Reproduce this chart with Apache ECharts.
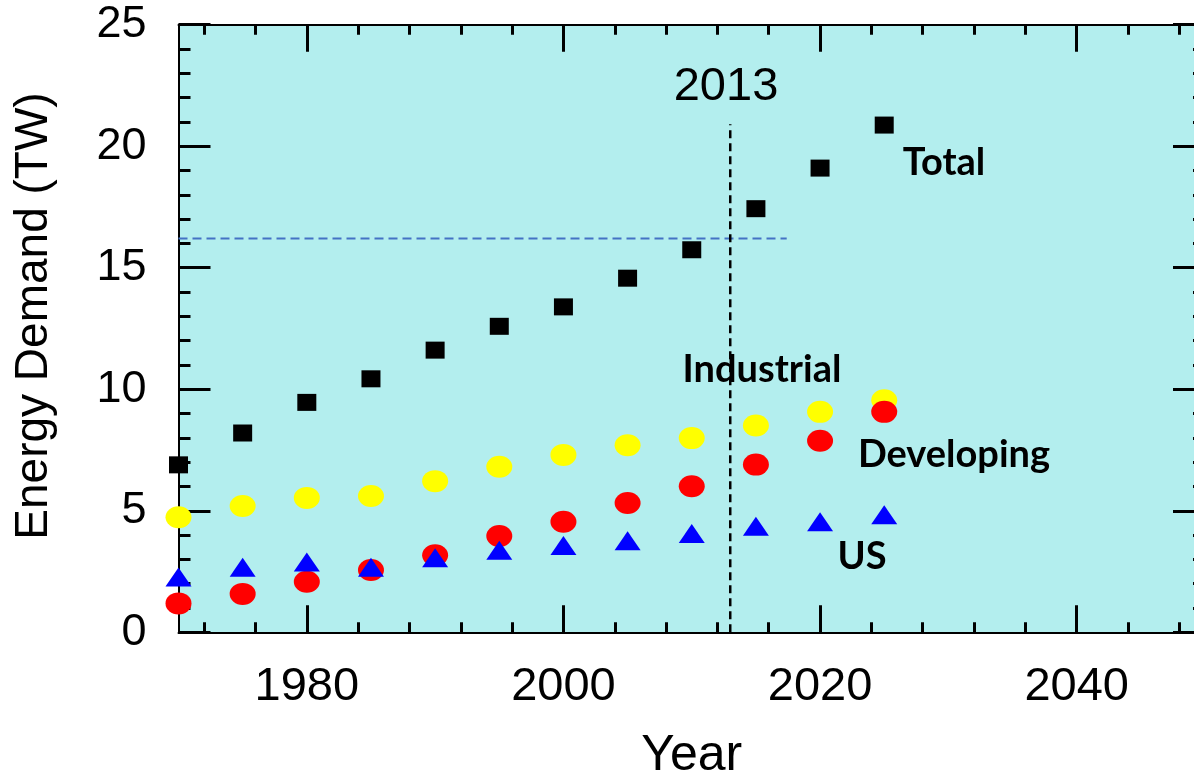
<!DOCTYPE html>
<html>
<head>
<meta charset="utf-8">
<title>Energy Demand</title>
<script src="https://cdn.jsdelivr.net/npm/echarts@6/dist/echarts.min.js"></script>
<style>
  html, body { margin: 0; padding: 0; background: #ffffff; }
  #chart { width: 1194px; height: 772px; }
</style>
</head>
<body>
<div id="chart"></div>
<script>
// Energy demand by region, TW, every five years
const years      = [1970, 1975, 1980, 1985, 1990, 1995, 2000, 2005, 2010, 2015, 2020, 2025];
const total      = [6.89, 8.20, 9.46, 10.43, 11.61, 12.59, 13.39, 14.57, 15.74, 17.43, 19.10, 20.87];
const industrial = [4.73, 5.20, 5.53, 5.61, 6.22, 6.81, 7.30, 7.70, 7.99, 8.51, 9.07, 9.55];
const developing = [1.19, 1.58, 2.08, 2.56, 3.17, 3.96, 4.55, 5.32, 6.01, 6.90, 7.88, 9.07];
const us         = [2.28, 2.68, 2.89, 2.68, 3.07, 3.38, 3.57, 3.77, 4.07, 4.36, 4.55, 4.84];

// Reference markers: the 2013 line and the demand level reached around then
const refYear      = 2013;
const refYearTop   = 20.9;
const refLevel     = 16.2;
const refLevelEnd  = 2017.4;

// Axis ticks
const xMajorTicks = [1980, 2000, 2020, 2040];
const xMinorTicks = [1972, 1976, 1984, 1988, 1992, 1996, 2004, 2008, 2012, 2016,
                     2024, 2028, 2032, 2036, 2044, 2048];
const yTickLabels = ['0', '5', '10', '15', '20', '25'];

const pairs = vals => years.map((y, i) => [y, vals[i]]);

const FONT = '"Liberation Sans", Arial, sans-serif';
const LABEL_FONT = 'bold 38px Lato, "Open Sans", sans-serif';

const chart = echarts.init(document.getElementById('chart'), null, { renderer: 'canvas' });

const tickStyle = { color: '#000', width: 3 };
const lineStyle = { color: '#000', width: 2 };
const plotRect = { left: 178.5, top: 24.7, right: -11, bottom: 139.7,
                   containLabel: false, outerBoundsMode: 'none' };

const xBase = {
  type: 'value', min: 1970, max: 2050,
  splitLine: { show: false },
  axisLabel: { show: false },
  axisLine: { show: false }
};

const option = {
  backgroundColor: '#ffffff',
  animation: false,
  grid: [
    // main plot area
    Object.assign({ show: true, backgroundColor: '#b3eeee', borderWidth: 0 }, plotRect),
    // same frame, carries the short year ticks
    Object.assign({ show: false }, plotRect)
  ],
  xAxis: [
    Object.assign({}, xBase, {
      gridIndex: 0, position: 'bottom',
      axisLine: { show: true, onZero: false, lineStyle: lineStyle },
      axisTick: { show: true, inside: true, length: 27, customValues: xMajorTicks, lineStyle: tickStyle },
      axisLabel: { show: true, customValues: xMajorTicks, margin: 31,
                   color: '#000', fontFamily: FONT, fontSize: 47,
                   formatter: v => String(v) },
      name: 'Year', nameLocation: 'middle', nameGap: 99,
      nameTextStyle: { color: '#000', fontFamily: FONT, fontSize: 50 }
    }),
    Object.assign({}, xBase, {
      gridIndex: 0, position: 'top',
      axisLine: { show: true, onZero: false, lineStyle: lineStyle },
      axisTick: { show: true, inside: true, length: 27, customValues: xMajorTicks, lineStyle: tickStyle }
    }),
    Object.assign({}, xBase, {
      gridIndex: 1, position: 'bottom',
      axisTick: { show: true, inside: true, length: 10, customValues: xMinorTicks, lineStyle: tickStyle }
    }),
    Object.assign({}, xBase, {
      gridIndex: 1, position: 'top',
      axisTick: { show: true, inside: true, length: 10, customValues: xMinorTicks, lineStyle: tickStyle }
    })
  ],
  yAxis: [
    {
      gridIndex: 0, type: 'value', min: 0, max: 25, interval: 5, position: 'left',
      splitLine: { show: false },
      axisLine: { show: true, onZero: false, lineStyle: lineStyle },
      axisTick: { inside: true, length: 32, lineStyle: tickStyle },
      minorTick: { show: true, splitNumber: 5, length: 12, lineStyle: tickStyle },
      axisLabel: { margin: 32, color: '#000', fontFamily: FONT, fontSize: 45,
                   formatter: v => yTickLabels[Math.round(v / 5)] }
    },
    {
      gridIndex: 0, type: 'value', min: 0, max: 25, interval: 5, position: 'right',
      splitLine: { show: false },
      axisLine: { show: true, onZero: false, lineStyle: lineStyle },
      axisTick: { inside: true, length: 32, lineStyle: tickStyle },
      minorTick: { show: true, splitNumber: 5, length: 12, lineStyle: tickStyle },
      axisLabel: { show: false }
    },
    {
      gridIndex: 1, type: 'value', min: 0, max: 25, show: false
    }
  ],
  series: [
    {
      name: 'Level', type: 'line', xAxisIndex: 0, yAxisIndex: 0,
      data: [[1970, refLevel], [refLevelEnd, refLevel]],
      symbol: 'none', silent: true, z: 1,
      lineStyle: { color: '#4472c4', width: 2, type: [9, 5] }
    },
    {
      name: 'Year line', type: 'line', xAxisIndex: 0, yAxisIndex: 0,
      data: [[refYear, 0], [refYear, refYearTop]],
      symbol: 'none', silent: true, z: 1,
      lineStyle: { color: '#000', width: 2.5, type: [8, 5] }
    },
    {
      name: 'Industrial', type: 'scatter', xAxisIndex: 0, yAxisIndex: 0, data: pairs(industrial),
      symbol: 'circle', symbolSize: [26, 22], z: 2,
      itemStyle: { color: '#ffff00', opacity: 1 }
    },
    {
      name: 'Developing', type: 'scatter', xAxisIndex: 0, yAxisIndex: 0, data: pairs(developing),
      symbol: 'circle', symbolSize: [26, 22], z: 3,
      itemStyle: { color: '#ff0000', opacity: 1 }
    },
    {
      name: 'US', type: 'scatter', xAxisIndex: 0, yAxisIndex: 0, data: pairs(us),
      symbol: 'triangle', symbolSize: [26, 19], z: 4,
      itemStyle: { color: '#0000ff', opacity: 1 }
    },
    {
      name: 'Total', type: 'scatter', xAxisIndex: 0, yAxisIndex: 0, data: pairs(total),
      symbol: 'rect', symbolSize: [19, 17], z: 5,
      itemStyle: { color: '#000000', opacity: 1 }
    }
  ],
  graphic: [
    { type: 'text', z: 10, x: 34, y: 316, rotation: Math.PI / 2,
      style: { text: 'Energy Demand (TW)', fill: '#000', font: '46px ' + FONT,
               textAlign: 'center', textVerticalAlign: 'middle' } },
    { type: 'text', z: 10, style: { text: '2013', x: 726, y: 87, fill: '#000',
      font: '47px ' + FONT, textAlign: 'center', textVerticalAlign: 'middle' } },
    { type: 'text', z: 10, style: { text: 'Total', x: 944, y: 163, fill: '#000',
      font: LABEL_FONT, textAlign: 'center', textVerticalAlign: 'middle' } },
    { type: 'text', z: 10, style: { text: 'Industrial', x: 762, y: 370, fill: '#000',
      font: LABEL_FONT, textAlign: 'center', textVerticalAlign: 'middle' } },
    { type: 'text', z: 10, style: { text: 'Developing', x: 954, y: 455, fill: '#000',
      font: LABEL_FONT, textAlign: 'center', textVerticalAlign: 'middle' } },
    { type: 'text', z: 10, style: { text: 'US', x: 862, y: 557, fill: '#000',
      font: LABEL_FONT, textAlign: 'center', textVerticalAlign: 'middle' } }
  ]
};

chart.setOption(option);
</script>
</body>
</html>
